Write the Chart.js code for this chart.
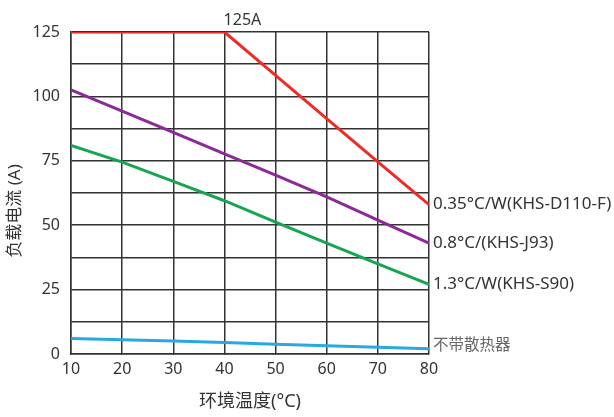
<!DOCTYPE html>
<html>
<head>
<meta charset="utf-8">
<script src="https://cdn.jsdelivr.net/npm/chart.js@4/dist/chart.umd.min.js"></script>
<style>
  html, body { margin: 0; padding: 0; background: #fff; }
  #wrap { width: 614px; height: 417px; position: relative; }
</style>
</head>
<body>
<div id="wrap"><canvas id="derating"></canvas></div>
<script>
// Derating curves: load current vs ambient temperature
const temps = [10, 20, 30, 40, 50, 60, 70, 80];
const seriesNames = ['0.35°C/W(KHS-D110-F)', '0.8°C/(KHS-J93)', '1.3°C/W(KHS-S90)', '不带散热器'];
const redValues = [125, 125, 125, 125, 108.2, 91.4, 74.6, 58];
const purpleValues = [102.5, 94.3, 86, 77.7, 69.4, 61, 52, 43];
const greenValues = [81, 74.5, 67, 59.5, 51.2, 43, 35, 27];
const blueValues = [6, 5.5, 5, 4.5, 3.8, 3.2, 2.6, 2];
const seriesColors = ['#ee2b24', '#8a2a97', '#16a550', '#2aa8e0'];
const labelColors = ['#333', '#333', '#333', '#666'];
const yTicks = [0, 25, 50, 75, 100, 125];

const FONT = "'Noto Sans', 'Noto Sans CJK SC', sans-serif";

function toPoints(values) {
    return temps.map((t, i) => ({ x: t, y: values[i] }));
}

// Labels at the right end of each line, the 125A note and the y title
const endLabels = {
    id: 'endLabels',
    afterDatasetsDraw(chart) {
        const ctx = chart.ctx;
        const xs = chart.scales.x;
        const ys = chart.scales.y;
        const area = chart.chartArea;
        ctx.save();
        ctx.textBaseline = 'middle';
        ctx.textAlign = 'left';
        chart.data.datasets.forEach((ds, i) => {
            const last = ds.data[ds.data.length - 1];
            ctx.font = (i === 3 ? '15.5px ' : '17px ') + FONT;
            ctx.fillStyle = labelColors[i];
            ctx.fillText(seriesNames[i], xs.getPixelForValue(last.x) + 4, ys.getPixelForValue(last.y) + (i === 3 ? -3 : 0));
        });
        ctx.font = '16px ' + FONT;
        ctx.fillStyle = '#333';
        ctx.textAlign = 'center';
        ctx.textBaseline = 'bottom';
        ctx.fillText('125A', xs.getPixelForValue(40) + 18, ys.getPixelForValue(125) - 4);

        // rotated y title, sits a bit below the plot centre
        ctx.translate(15, (area.top + area.bottom) / 2 + 18);
        ctx.rotate(-Math.PI / 2);
        ctx.font = '17px ' + FONT;
        ctx.textBaseline = 'middle';
        ctx.fillText('负载电流 (A)', 0, 0);
        ctx.restore();
    }
};

function makeDataset(values, color) {
    return {
        data: toPoints(values),
        borderColor: color,
        backgroundColor: color,
        borderWidth: 3,
        pointRadius: 0,
        tension: 0,
        fill: false
    };
}

new Chart(document.getElementById('derating'), {
    type: 'line',
    data: {
        datasets: [
            makeDataset(redValues, seriesColors[0]),
            makeDataset(purpleValues, seriesColors[1]),
            makeDataset(greenValues, seriesColors[2]),
            makeDataset(blueValues, seriesColors[3])
        ]
    },
    options: {
        responsive: true,
        maintainAspectRatio: false,
        animation: false,
        layout: { padding: { top: 32, right: 185, left: 0, bottom: 0 } },
        plugins: {
            legend: { display: false },
            tooltip: { enabled: false }
        },
        scales: {
            x: {
                type: 'linear',
                min: 10,
                max: 80,
                ticks: {
                    stepSize: 10,
                    color: '#333',
                    font: { family: FONT, size: 16 },
                    padding: 6
                },
                grid: { color: '#333', lineWidth: 1.5, tickLength: 0 },
                border: { color: '#333', width: 1.5 },
                title: {
                    display: true,
                    text: '环境温度(°C)',
                    color: '#333',
                    font: { family: FONT, size: 18 },
                    padding: { top: 8 }
                },
                afterFit(scale) { scale.height = 63; }
            },
            y: {
                min: 0,
                max: 125,
                afterBuildTicks(scale) {
                    const t = [];
                    for (let v = 0; v <= 125; v += 12.5) t.push({ value: v });
                    scale.ticks = t;
                },
                ticks: {
                    color: '#333',
                    font: { family: FONT, size: 16 },
                    padding: 11,
                    autoSkip: false,
                    callback: v => (yTicks.includes(v) ? String(v) : '')
                },
                grid: { color: '#333', lineWidth: 1.5, tickLength: 0 },
                border: { color: '#333', width: 1.5 },
                afterFit(scale) { scale.width = 71; }
            }
        }
    },
    plugins: [endLabels]
});
</script>
</body>
</html>
